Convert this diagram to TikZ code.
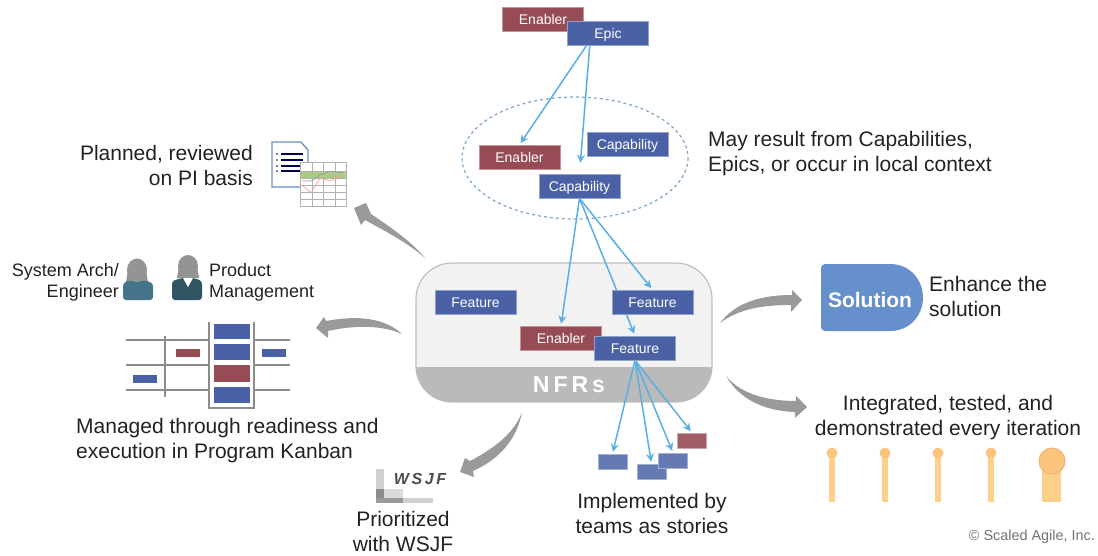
\documentclass[tikz,border=0pt]{standalone}
\usepackage{fontspec}
\setmainfont{Liberation Sans}
\usetikzlibrary{arrows.meta,backgrounds}
\definecolor{bluebox}{HTML}{4A62A5}
\definecolor{redbox}{HTML}{964B55}
\definecolor{linkblue}{HTML}{5AAEE4}
\definecolor{txtgrey}{HTML}{222222}
\definecolor{bentgrey}{HTML}{9A9A9A}
\definecolor{orangepin}{HTML}{FDD08A}
\definecolor{orangehead}{HTML}{FBC57C}
\definecolor{solblue}{HTML}{6590CC}
\definecolor{dashblue}{HTML}{7FA6C9}
\definecolor{teallight}{HTML}{44748A}
\definecolor{tealdark}{HTML}{2F5562}
\tikzset{
  epicbox/.style={rectangle,inner sep=0pt,minimum width=81pt,minimum height=24pt,text=white,text height=13pt,text depth=3pt,font=\fontsize{14}{16}\selectfont},
  bluecard/.style={epicbox,fill=bluebox,draw=bluebox!60!white,line width=0.6pt},
  redcard/.style={epicbox,fill=redbox,draw=redbox!60!white,line width=0.6pt},
  storyblue/.style={rectangle,inner sep=0pt,minimum width=29pt,minimum height=15pt,fill=bluebox!85!white,draw=bluebox!50!white,line width=0.5pt},
  storyred/.style={storyblue,fill=redbox!90!white,draw=redbox!50!white},
  link/.style={draw=linkblue,line width=1.5pt,-{Stealth[length=8pt,width=8pt]},shorten >=2pt},
  txt/.style={inner sep=0pt,text=txtgrey,font=\fontsize{21}{25}\selectfont},
  smalltxt/.style={inner sep=0pt,text=txtgrey,font=\fontsize{18}{21}\selectfont},
  bent/.style={fill=bentgrey,draw=none},
  pin/.style={fill=orangepin,draw=none},
  rail/.style={draw=black!45,line width=1.5pt}
}
\begin{document}
\begin{tikzpicture}[x=1pt,y=-1pt]
\useasboundingbox (0,0) rectangle (1098,555);
%cards
\node[redcard] (enablertop) at (543,19.5) {Enabler};
\node[bluecard] (epic) at (608,33) {Epic};
\node[redcard] (enablercap) at (519.5,157) {Enabler};
\node[bluecard] (capright) at (627.5,144) {Capability};
\node[bluecard] (capmain) at (579.5,186) {Capability};
\node[bluecard] (featleft) at (475.5,302) {Feature};
\node[bluecard] (featright) at (652.5,302) {Feature};
\node[redcard] (enablernfr) at (561,338) {Enabler};
\node[bluecard] (featlow) at (635,348) {Feature};
%stories
\node[storyblue] (storya) at (612.5,461.5) {};
\node[storyblue] (storyb) at (651.5,471.5) {};
\node[storyblue] (storyc) at (673,460.5) {};
\node[storyred] (storyd) at (692,440.5) {};
%container and links under the cards
\begin{pgfonlayer}{background}
\draw[draw=black!25,fill=black!5,line width=1.2pt,rounded corners=36pt] (416,263) rectangle (712,402);
\begin{scope}
\clip[rounded corners=36pt] (416,263) rectangle (712,402);
\fill[black!27] (416,367) rectangle (712,402);
\end{scope}
\draw[link] (epic.210) -- (enablercap.north);
\draw[link,shorten >=11pt] (epic.214) -- (capmain.north);
\draw[link] (capmain.south) -- (enablernfr.north);
\draw[link] (capmain.south) -- (featright.north);
\draw[link] (capmain.south) -- (featlow.north);
\draw[link] (featlow.south) -- (storya.north);
\draw[link] (featlow.south) -- (storyb.north);
\draw[link] (featlow.south) -- (storyc.north);
\draw[link] (featlow.south) -- (storyd.north);
\end{pgfonlayer}
\node[inner sep=0pt,text=white,font=\fontsize{23}{26}\selectfont\bfseries] (nfrs) at (569,385) {N\hspace{4pt}F\hspace{4pt}R\hspace{4pt}s};
%ellipse
\draw[draw=dashblue,dashed,line width=1.2pt] (575,158) ellipse (113 and 61);
%texts
\node[txt,anchor=west,align=left] (fromcaps) at (708,154) {May result from Capabilities,\\Epics, or occur in local context};
\node[txt,anchor=east,align=right] (planned) at (253,165) {Planned, reviewed\\on PI basis};
\node[smalltxt,anchor=east,align=right] (sysarch) at (119,282) {System Arch/\\Engineer};
\node[smalltxt,anchor=west,align=left] (prodmgmt) at (209,282) {Product\\Management};
\node[txt,anchor=west,align=left] (managed) at (76,440.5) {Managed through readiness and\\execution in Program Kanban};
\node[txt,align=center] (prior) at (403,531.5) {Prioritized\\with WSJF};
\node[txt,align=center] (implem) at (652,513.5) {Implemented by\\teams as stories};
\node[txt,anchor=west,align=left] (enhance) at (929,296.5) {Enhance the\\solution};
\node[txt,align=center] (integ) at (948,418) {Integrated, tested, and\\demonstrated every iteration};
\node[inner sep=0pt,anchor=east,text=black!55,font=\fontsize{14.4}{16}\selectfont] (copyr) at (1095,537) {© Scaled Agile, Inc.};
%curved arrows
\fill[bent] (425,258) .. controls (410,240) and (390,227) .. (371,214) -- (366,203) -- (354,208) -- (361,225) -- (365,220) .. controls (385,231) and (408,243) .. (425,258) -- cycle;
\fill[bent] (402,334) .. controls (385,318) and (358,315) .. (326,321) -- (324,317) -- (316,328) -- (328,338) -- (328,331) .. controls (355,325) and (382,325) .. (402,334) -- cycle;
\fill[bent] (522,412) .. controls (515,432) and (495,448) .. (470,461) -- (465,458) -- (460,472) -- (474,477) -- (473,471) .. controls (498,460) and (517,440) .. (522,412) -- cycle;
\fill[bent] (720,323) .. controls (735,303) and (760,295) .. (792,295) -- (792,290) -- (802,300) -- (791,312) -- (791,305) .. controls (765,305) and (740,308) .. (720,323) -- cycle;
\fill[bent] (726,376) .. controls (740,393) and (765,401) .. (796,401) -- (796,396) -- (807,407) -- (795,418) -- (795,412) .. controls (765,411) and (740,400) .. (726,376) -- cycle;
%solution
\fill[solblue] (825,264) -- (890,264) .. controls (910,264) and (923,280) .. (923,297.5) .. controls (923,315) and (910,331) .. (890,331) -- (825,331) .. controls (823,331) and (821,329) .. (821,327) -- (821,268) .. controls (821,266) and (823,264) .. (825,264) -- cycle;
\node[inner sep=0pt,text=white,font=\fontsize{21}{25}\selectfont\bfseries] (solution) at (870,300) {Solution};
%pins
\foreach \z in {832,885,938,991}
{\fill[pin] (\z-3,453) rectangle (\z+3,502);
\fill[orangehead] (\z,453) circle (5.5);}
\fill[pin] (1042,465) rectangle (1061,502);
\draw[fill=orangehead,draw=orange!70!brown!60,line width=1pt] (1052,461) circle (13);
%document icon
\draw[draw=solblue,line width=1.3pt,fill=white] (272,142) -- (301,142) -- (308,150) -- (308,187) -- (272,187) -- cycle;
\foreach \z in {154,160,166,171}
{\draw[draw=black!70!blue,line width=1.1pt] (281,\z) -- (303,\z);
\fill[black!70!blue] (277,\z) circle (0.8);}
\fill[white] (300,162) rectangle (346,206);
\fill[green!45!yellow!60!black!50] (300,171) rectangle (346,178);
\draw[black!30] (300,162) rectangle (346,206);
\foreach \z in {171,178,185,192,199}
{\draw[black!30] (300,\z) -- (346,\z);}
\foreach \z in {312,323,335}
{\draw[black!30] (\z,162) -- (\z,206);}
\draw[red!40,line width=0.7pt] (302,185) -- (311,193) -- (320,178) -- (330,181) -- (343,175);
\draw[black!40,line width=0.7pt] (302,181) -- (311,181) -- (320,175) -- (331,171) -- (343,173);
%people
\fill[black!42] (137,270) ellipse (10 and 11.5);
\fill[black!42] (128,270) -- (146,270) -- (148,282) -- (126,282) -- cycle;
\fill[teallight,rounded corners=3pt] (123,300) -- (123,283) -- (131,280) -- (137,283) -- (143,280) -- (153,283) -- (153,300) -- cycle;
\fill[black!42] (188,266) ellipse (10 and 11);
\fill[black!42] (179,266) -- (197,266) -- (199,278) -- (177,278) -- cycle;
\fill[tealdark,rounded corners=3pt] (172,300) -- (172,281) -- (182,278) -- (194,278) -- (202,281) -- (202,300) -- cycle;
\fill[white] (183,278) -- (193,278) -- (188,287) -- cycle;
%kanban
\foreach \z in {340,365,390}
{\draw[rail] (126,\z) -- (290,\z);}
\draw[rail] (165,336) -- (165,397);
\fill[white] (209,322) rectangle (254,408);
\draw[rail] (209,322) -- (209,408) -- (254,408) -- (254,322);
\fill[bluebox] (214,324) rectangle (250,339);
\fill[bluebox] (214,344) rectangle (250,360);
\fill[redbox] (214,365) rectangle (250,382);
\fill[bluebox] (214,387) rectangle (250,403);
\fill[redbox] (176,349) rectangle (200,357);
\fill[bluebox] (262,349) rectangle (286,357);
\fill[bluebox] (133,375) rectangle (157,383);
%wsjf
\fill[black!18] (376,469) rectangle (384,503);
\fill[black!18] (376,498) rectangle (433,503);
\fill[black!14] (376,489) rectangle (403,503);
\fill[black!45] (376,489) rectangle (384,498);
\fill[black!40] (376,498) rectangle (403,503);
\node[inner sep=0pt,text=black!70,font=\fontsize{16}{18}\selectfont\bfseries\itshape] (wsjf) at (420,479) {W\,S\,J\,F};
\end{tikzpicture}
\end{document}
